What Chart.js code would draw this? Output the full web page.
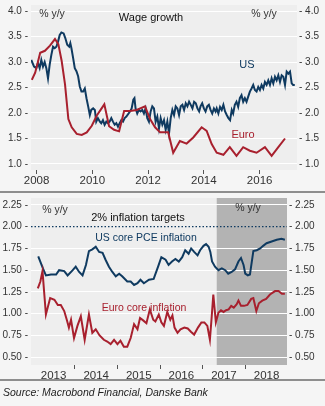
<!DOCTYPE html>
<html>
<head>
<meta charset="utf-8">
<script src="https://cdn.jsdelivr.net/npm/chart.js@4.4.1/dist/chart.umd.min.js"></script>
<style>
    body { margin: 0; width: 325px; height: 406px; overflow: hidden; background: #f5f5f5; position: relative; }
    canvas { position: absolute; left: 0; }
    #wage { top: 0; }
    #inflation { top: 194px; }
    .rule { position: absolute; left: 0; width: 325px; height: 2px; background: #8e8e8e; }
    #source { position: absolute; left: 3px; top: 386px; font: italic 10.5px 'Liberation Sans', Arial, sans-serif; color: #222; }
</style>
</head>
<body>
<canvas id="wage" width="325" height="191"></canvas>
<canvas id="inflation" width="325" height="186"></canvas>
<div class="rule" style="top:191px"></div>
<div class="rule" style="top:379px"></div>
<div id="source">Source: Macrobond Financial, Danske Bank</div>
<script>
const NAVY = '#0f3a60';
const RED = '#a8202e';
const TEXT = '#333333';
const PLOT_BG = '#eeeeee';
const SHADE = '#b3b3b3';
const FONT = "'Liberation Sans', Arial, sans-serif";

// Wage growth, % y/y
const WAGE_YEARS = [2008, 2010, 2012, 2014, 2016];
const WAGE_TICKS = [1.0, 1.5, 2.0, 2.5, 3.0, 3.5, 4.0];

const US_WAGE_T = [
    2007.81, 2007.91, 2007.99, 2008.05, 2008.11, 2008.17, 2008.23, 2008.29, 2008.35, 2008.41,
    2008.47, 2008.53, 2008.59, 2008.65, 2008.71, 2008.77, 2008.83, 2008.89, 2008.97, 2009.03,
    2009.10, 2009.17, 2009.21, 2009.25, 2009.31, 2009.37, 2009.43, 2009.49, 2009.55, 2009.61,
    2009.67, 2009.73, 2009.79, 2009.85, 2009.91, 2009.96, 2010.03, 2010.09, 2010.14, 2010.20,
    2010.27, 2010.32, 2010.38, 2010.44, 2010.50, 2010.56, 2010.62, 2010.68, 2010.74, 2010.80,
    2010.86, 2010.92, 2010.98, 2011.04, 2011.10, 2011.16, 2011.22, 2011.35, 2011.41, 2011.47,
    2011.51, 2011.55, 2011.61, 2011.67, 2011.73, 2011.79, 2011.85, 2011.91, 2011.97, 2012.03,
    2012.09, 2012.15, 2012.21, 2012.27, 2012.33, 2012.39, 2012.45, 2012.51, 2012.57, 2012.63,
    2012.69, 2012.75, 2012.81, 2012.87, 2012.93, 2012.99, 2013.05, 2013.11, 2013.17, 2013.23,
    2013.29, 2013.35, 2013.41, 2013.47, 2013.53, 2013.59, 2013.65, 2013.71, 2013.77, 2013.83,
    2013.88, 2013.94, 2014.00, 2014.06, 2014.12, 2014.18, 2014.24, 2014.30, 2014.36, 2014.42,
    2014.46, 2014.52, 2014.58, 2014.64, 2014.70, 2014.76, 2014.82, 2014.88, 2014.94, 2015.00,
    2015.05, 2015.11, 2015.17, 2015.23, 2015.29, 2015.35, 2015.41, 2015.47, 2015.53, 2015.59,
    2015.65, 2015.71, 2015.77, 2015.83, 2015.89, 2015.95, 2016.01, 2016.07, 2016.13, 2016.19,
    2016.25, 2016.31, 2016.37, 2016.43, 2016.49, 2016.55, 2016.61, 2016.67, 2016.73, 2016.79,
    2016.85, 2016.91, 2016.97, 2017.03, 2017.09, 2017.15, 2017.20, 2017.26,
];
const US_WAGE = [
    3.04, 2.91, 2.88, 2.98, 2.88, 3.04, 2.91, 3.00, 2.88, 2.68,
    2.95, 3.14, 3.30, 3.27, 3.30, 3.40, 3.53, 3.58, 3.56, 3.47,
    3.34, 3.30, 3.37, 3.27, 3.08, 2.88, 2.82, 2.72, 2.52, 2.42,
    2.42, 2.48, 2.29, 2.13, 1.96, 2.06, 2.09, 2.06, 1.83, 1.90,
    1.83, 1.80, 1.86, 1.77, 1.83, 1.80, 1.83, 1.90, 1.83, 1.77,
    1.80, 1.73, 1.80, 1.86, 1.83, 1.90, 1.93, 2.03, 2.09, 2.26,
    2.29, 2.09, 1.99, 2.06, 2.03, 2.06, 1.99, 2.09, 1.90, 1.83,
    2.03, 2.13, 2.09, 1.83, 1.93, 1.70, 1.90, 1.77, 1.86, 1.67,
    1.83, 1.60, 1.90, 2.06, 1.96, 2.13, 2.09, 1.96, 2.13, 2.16,
    2.06, 2.19, 2.13, 2.22, 2.16, 2.09, 2.22, 2.19, 2.09, 2.03,
    2.13, 2.19, 2.09, 2.03, 2.13, 2.16, 2.06, 1.99, 2.09, 2.03,
    2.09, 1.99, 2.12, 2.06, 2.16, 2.03, 1.96, 1.90, 1.86, 2.06,
    1.99, 2.16, 2.22, 2.12, 2.29, 2.35, 2.22, 2.29, 2.22, 2.32,
    2.42, 2.48, 2.55, 2.45, 2.42, 2.51, 2.45, 2.55, 2.48, 2.61,
    2.55, 2.64, 2.55, 2.68, 2.58, 2.71, 2.64, 2.74, 2.61, 2.74,
    2.71, 2.55, 2.81, 2.77, 2.81, 2.58, 2.55, 2.55,
];

const EURO_WAGE_T = [
    2007.83, 2007.95, 2008.13, 2008.30, 2008.48, 2008.66, 2008.78, 2008.90, 2009.02, 2009.14,
    2009.26, 2009.44, 2009.62, 2009.80, 2009.98, 2010.16, 2010.43, 2010.60, 2010.78, 2010.96,
    2011.14, 2011.35, 2011.59, 2011.89, 2012.07, 2012.25, 2012.43, 2012.72, 2012.90, 2013.14,
    2013.38, 2013.62, 2013.92, 2014.10, 2014.28, 2014.46, 2014.70, 2014.93, 2015.17, 2015.41,
    2015.65, 2015.89, 2016.19, 2016.43, 2016.67, 2016.91,
];
const EURO_WAGE = [
    2.65, 2.79, 3.18, 3.22, 3.32, 3.45, 3.35, 3.02, 2.56, 1.88,
    1.72, 1.59, 1.57, 1.62, 1.75, 1.95, 2.17, 1.74, 1.67, 1.64,
    2.04, 2.04, 2.06, 2.13, 1.88, 1.72, 1.62, 1.62, 1.22, 1.45,
    1.40, 1.52, 1.72, 1.65, 1.39, 1.22, 1.18, 1.33, 1.16, 1.33,
    1.26, 1.22, 1.33, 1.16, 1.33, 1.50,
];

// Core inflation, % y/y
const INFL_YEARS = [2013, 2014, 2015, 2016, 2017, 2018];
const INFL_TICKS = [0.5, 0.75, 1.0, 1.25, 1.5, 1.75, 2.0, 2.25];
const TARGET = 2.0;
const SHADE_FROM = 2017.33;

const US_PCE_T = [
    2013.14, 2013.25, 2013.32, 2013.44, 2013.56, 2013.63, 2013.75, 2013.83, 2013.95, 2014.02,
    2014.10, 2014.18, 2014.26, 2014.33, 2014.41, 2014.49, 2014.57, 2014.65, 2014.72, 2014.80,
    2014.88, 2014.96, 2015.04, 2015.11, 2015.23, 2015.31, 2015.39, 2015.47, 2015.54, 2015.62,
    2015.74, 2015.85, 2015.96, 2016.03, 2016.13, 2016.20, 2016.28, 2016.36, 2016.44, 2016.52,
    2016.59, 2016.67, 2016.73, 2016.80, 2016.88, 2016.94, 2017.02, 2017.08, 2017.14, 2017.18,
    2017.22, 2017.29, 2017.37, 2017.45, 2017.53, 2017.60, 2017.68, 2017.76, 2017.84, 2017.90,
    2017.96, 2018.00, 2018.06, 2018.11, 2018.19, 2018.27, 2018.35, 2018.42, 2018.50, 2018.62,
    2018.74, 2018.85, 2018.93,
];
const US_PCE = [
    1.66, 1.52, 1.44, 1.45, 1.45, 1.50, 1.49, 1.44, 1.50, 1.54,
    1.48, 1.44, 1.56, 1.72, 1.74, 1.77, 1.71, 1.70, 1.62, 1.54,
    1.48, 1.43, 1.46, 1.43, 1.37, 1.37, 1.33, 1.35, 1.39, 1.35,
    1.39, 1.40, 1.55, 1.65, 1.62, 1.56, 1.60, 1.63, 1.60, 1.65,
    1.73, 1.69, 1.75, 1.71, 1.67, 1.73, 1.78, 1.80, 1.77, 1.71,
    1.60, 1.54, 1.50, 1.52, 1.50, 1.46, 1.48, 1.51, 1.60, 1.64,
    1.56, 1.46, 1.44, 1.45, 1.72, 1.73, 1.75, 1.78, 1.81, 1.83,
    1.85, 1.86, 1.85,
];

const EURO_CORE_T = [
    2013.13, 2013.19, 2013.24, 2013.32, 2013.42, 2013.52, 2013.60, 2013.67, 2013.75, 2013.81,
    2013.86, 2013.91, 2013.98, 2014.06, 2014.14, 2014.23, 2014.33, 2014.41, 2014.49, 2014.58,
    2014.68, 2014.76, 2014.84, 2014.92, 2015.00, 2015.07, 2015.15, 2015.23, 2015.31, 2015.39,
    2015.47, 2015.53, 2015.61, 2015.68, 2015.76, 2015.84, 2015.89, 2015.97, 2016.03, 2016.09,
    2016.17, 2016.24, 2016.29, 2016.34, 2016.41, 2016.48, 2016.57, 2016.65, 2016.73, 2016.80,
    2016.89, 2016.97, 2017.04, 2017.11, 2017.17, 2017.21, 2017.25, 2017.31, 2017.37, 2017.43,
    2017.49, 2017.55, 2017.61, 2017.67, 2017.73, 2017.80, 2017.84, 2017.90, 2017.97, 2018.05,
    2018.14, 2018.19, 2018.26, 2018.32, 2018.40, 2018.49, 2018.58, 2018.70, 2018.78, 2018.86,
    2018.93,
];
const EURO_CORE = [
    1.29, 1.37, 1.49, 0.99, 1.18, 1.16, 1.10, 1.10, 1.03, 0.93,
    0.84, 0.93, 0.72, 0.86, 0.97, 0.70, 0.99, 0.78, 0.82, 0.75,
    0.70, 0.68, 0.65, 0.70, 0.65, 0.69, 0.62, 0.62, 0.72, 0.88,
    0.82, 0.95, 0.92, 0.89, 1.05, 0.93, 0.91, 0.99, 0.90, 0.86,
    1.02, 0.93, 0.98, 0.84, 0.78, 0.82, 0.84, 0.83, 0.79, 0.76,
    0.84, 0.90, 0.90, 0.86, 0.70, 0.95, 1.22, 0.90, 1.01, 1.04,
    1.02, 1.04, 1.05, 1.09, 1.07, 1.11, 1.15, 1.09, 1.09, 1.10,
    1.17, 1.18, 1.03, 1.12, 1.15, 1.17, 1.22, 1.26, 1.26, 1.23,
    1.23,
];

function points(xs, ys) {
    return xs.map((x, i) => ({ x, y: ys[i] }));
}

function lineDataset(data, color, extra = {}) {
    return {
        data,
        borderColor: color,
        borderWidth: 2,
        pointRadius: 0,
        tension: 0,
        fill: false,
        ...extra,
    };
}

const plotBackground = {
    id: 'plotBackground',
    beforeDraw(chart, args, opts) {
        const { ctx, chartArea: a, scales } = chart;
        ctx.save();
        ctx.fillStyle = PLOT_BG;
        ctx.fillRect(a.left, a.top, a.width, a.height);
        if (opts.shadeFrom != null) {
            const x0 = scales.x.getPixelForValue(opts.shadeFrom);
            ctx.fillStyle = SHADE;
            ctx.fillRect(x0, a.top, a.right - x0, a.height);
        }
        ctx.restore();
    },
};

const textLabels = {
    id: 'textLabels',
    afterDatasetsDraw(chart, args, opts) {
        const ctx = chart.ctx;
        ctx.save();
        ctx.textAlign = 'center';
        ctx.textBaseline = 'middle';
        (opts.items ?? []).forEach((item) => {
            ctx.font = `${item.size ?? 10.5}px ${FONT}`;
            ctx.fillStyle = item.color ?? TEXT;
            ctx.fillText(item.text, item.x, item.y);
        });
        ctx.restore();
    },
};

Chart.register(plotBackground, textLabels);

function yAxis(ticks, min, max, side, width, digits) {
    const left = side === 'left';
    return {
        type: 'linear',
        position: side,
        min,
        max,
        afterBuildTicks: (scale) => { scale.ticks = ticks.map((value) => ({ value })); },
        afterFit: (scale) => { scale.width = width; scale.paddingTop = 0; scale.paddingBottom = 0; },
        ticks: {
            color: TEXT,
            font: { family: FONT, size: 10 },
            padding: left ? 3 : 2,
            callback: (v) => (left ? `${v.toFixed(digits)} -` : `- ${v.toFixed(digits)}`),
        },
        grid: left ? {
            color: (c) => (c.tick && c.tick.value === TARGET && digits === 2 ? 'rgba(0,0,0,0)' : '#ffffff'),
            lineWidth: 1,
            drawTicks: false,
        } : { drawOnChartArea: false, drawTicks: false },
        border: { display: false },
    };
}

function xAxis(min, max, buildTicks, label, tickColor, height) {
    return {
        type: 'linear',
        min,
        max,
        afterBuildTicks: (scale) => { scale.ticks = buildTicks().map((value) => ({ value })); },
        afterFit: (scale) => { scale.height = height; scale.paddingLeft = 0; scale.paddingRight = 0; },
        ticks: {
            color: TEXT,
            font: { family: FONT, size: 11.5 },
            padding: 0,
            autoSkip: false,
            maxRotation: 0,
            callback: label,
        },
        grid: {
            drawOnChartArea: false,
            tickLength: 4,
            tickColor,
            lineWidth: 1,
        },
        border: { display: false },
    };
}

const common = {
    responsive: false,
    animation: false,
    events: [],
    plugins: { legend: { display: false }, tooltip: { enabled: false } },
};

new Chart(document.getElementById('wage'), {
    type: 'line',
    data: {
        datasets: [
            lineDataset(points(EURO_WAGE_T, EURO_WAGE), RED),
            lineDataset(points(US_WAGE_T, US_WAGE), NAVY),
        ],
    },
    options: {
        ...common,
        layout: { padding: { top: 5, bottom: 0, left: 0, right: 0 } },
        scales: {
            x: xAxis(2007.8, 2017.34, () => WAGE_YEARS, (v) => String(v), '#555555', 21),
            y: yAxis(WAGE_TICKS, 0.882, 4.118, 'left', 31, 1),
            y2: yAxis(WAGE_TICKS, 0.882, 4.118, 'right', 28, 1),
        },
        plugins: {
            ...common.plugins,
            textLabels: {
                items: [
                    { text: '% y/y', x: 52, y: 14 },
                    { text: 'Wage growth', x: 151, y: 18, size: 11, color: '#111111' },
                    { text: '% y/y', x: 264, y: 14 },
                    { text: 'US', x: 247, y: 65, size: 11, color: NAVY },
                    { text: 'Euro', x: 243, y: 135, size: 11, color: RED },
                ],
            },
        },
    },
});

new Chart(document.getElementById('inflation'), {
    type: 'line',
    data: {
        datasets: [
            lineDataset(points([2012.97, 2018.98], [TARGET, TARGET]), NAVY, { borderWidth: 1.2, borderDash: [1.5, 2] }),
            lineDataset(points(EURO_CORE_T, EURO_CORE), RED),
            lineDataset(points(US_PCE_T, US_PCE), NAVY),
        ],
    },
    options: {
        ...common,
        layout: { padding: { top: 4, bottom: 0, left: 0, right: 0 } },
        scales: {
            x: xAxis(
                2012.97,
                2018.98,
                () => INFL_YEARS.flatMap((y) => (y > INFL_YEARS[0] ? [y, y + 0.5] : [y + 0.5])),
                (v) => (Number.isInteger(v) ? '' : String(Math.floor(v))),
                (c) => (c.tick && Number.isInteger(c.tick.value) ? '#555555' : 'rgba(0,0,0,0)'),
                15,
            ),
            y: yAxis(INFL_TICKS, 0.41, 2.33, 'left', 31, 2),
            y2: yAxis(INFL_TICKS, 0.41, 2.33, 'right', 38, 2),
        },
        plugins: {
            ...common.plugins,
            plotBackground: { shadeFrom: SHADE_FROM },
            textLabels: {
                items: [
                    { text: '% y/y', x: 55, y: 16 },
                    { text: '2% inflation targets', x: 138, y: 24, size: 11, color: '#111111' },
                    { text: 'US core PCE inflation', x: 146, y: 44, color: NAVY },
                    { text: 'Euro core inflation', x: 144, y: 114, color: RED },
                    { text: '% y/y', x: 248, y: 14 },
                ],
            },
        },
    },
});
</script>
</body>
</html>
